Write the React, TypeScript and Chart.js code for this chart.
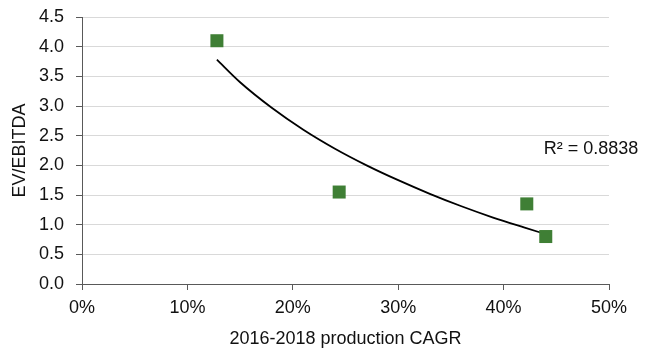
import React, { useEffect, useRef } from 'react';
import { Chart, registerables } from 'chart.js';

Chart.register(...registerables);

// Data
const cagrPct = [12.8, 24.4, 42.2, 44.0];
const evEbitda = [4.1, 1.55, 1.35, 0.8];
// Logarithmic trendline samples
const trendX = [12.8, 15, 18, 21, 24, 27, 30, 33, 36, 39, 42, 44];
const trendY = [3.78, 3.4, 2.97, 2.6, 2.28, 2.0, 1.75, 1.52, 1.31, 1.12, 0.95, 0.84];
const xMin = 0;
const xMax = 50;
const xStep = 10;
const yMin = 0;
const yMax = 4.5;
const yStep = 0.5;
const xTitle = '2016-2018 production CAGR';
const yTitle = 'EV/EBITDA';
const r2Label = 'R² = 0.8838';
const r2AnchorX = [43.8];
const r2AnchorY = [2.28];

const FONT = "'Liberation Sans', Arial, sans-serif";
const TEXT = '#111111';
const AXIS = '#595959';
const GRID = '#d9d9d9';
const GREEN = '#3f7f35';

const r2Plugin = {
  id: 'r2Label',
  afterDatasetsDraw(chart: any) {
    const { ctx, scales } = chart;
    const x = scales.x.getPixelForValue(r2AnchorX[0]);
    const y = scales.y.getPixelForValue(r2AnchorY[0]);
    ctx.save();
    ctx.font = `18px ${FONT}`;
    ctx.fillStyle = TEXT;
    ctx.textAlign = 'left';
    ctx.textBaseline = 'middle';
    ctx.fillText(r2Label, x, y);
    ctx.restore();
  },
};

export default function App() {
  const ref = useRef<HTMLCanvasElement | null>(null);

  useEffect(() => {
    if (!ref.current) return;
    const chart = new Chart(ref.current, {
      type: 'scatter',
      data: {
        datasets: [
          {
            type: 'line',
            label: 'Trend',
            data: trendX.map((x, i) => ({ x, y: trendY[i] })),
            borderColor: '#000000',
            borderWidth: 1.8,
            pointRadius: 0,
            fill: false,
            cubicInterpolationMode: 'monotone',
            order: 2,
          } as any,
          {
            label: 'EV/EBITDA',
            data: cagrPct.map((x, i) => ({ x, y: evEbitda[i] })),
            pointStyle: 'rect',
            pointRadius: 9.2,
            backgroundColor: GREEN,
            borderColor: GREEN,
            borderWidth: 0,
            order: 1,
          },
        ],
      },
      options: {
        animation: false,
        responsive: false,
        maintainAspectRatio: false,
        layout: { padding: { top: 17, right: 37, left: 0, bottom: 0 } },
        plugins: {
          legend: { display: false },
          tooltip: { enabled: false },
        },
        scales: {
          x: {
            type: 'linear',
            min: xMin,
            max: xMax,
            afterFit: (s: any) => {
              s.height = 70;
            },
            ticks: {
              stepSize: xStep,
              color: TEXT,
              font: { family: FONT, size: 18 },
              padding: 7,
              callback: (v: any) => `${v}%`,
            },
            grid: {
              drawOnChartArea: false,
              tickLength: 6,
              tickColor: AXIS,
            },
            border: { color: AXIS, width: 1 },
            title: {
              display: true,
              text: xTitle,
              color: TEXT,
              font: { family: FONT, size: 18 },
              padding: { top: 0, bottom: 4 },
            },
          },
          y: {
            type: 'linear',
            min: yMin,
            max: yMax,
            afterFit: (s: any) => {
              s.width = 82;
            },
            ticks: {
              stepSize: yStep,
              color: TEXT,
              font: { family: FONT, size: 18, lineHeight: 0.5 },
              padding: 12,
              callback: (v: any) => Number(v).toFixed(1),
            },
            grid: {
              color: GRID,
              lineWidth: 1,
              tickLength: 6,
              tickColor: AXIS,
            },
            border: { color: AXIS, width: 1 },
            title: {
              display: true,
              text: yTitle,
              color: TEXT,
              font: { family: FONT, size: 18 },
              padding: { top: 9, bottom: 0 },
            },
          },
        },
      },
      plugins: [r2Plugin],
    });
    return () => chart.destroy();
  }, []);

  return (
    <div style={{ position: 'absolute', left: 0, top: 0, width: 646, height: 354, background: '#fff' }}>
      <canvas ref={ref} width={646} height={354} />
    </div>
  );
}
